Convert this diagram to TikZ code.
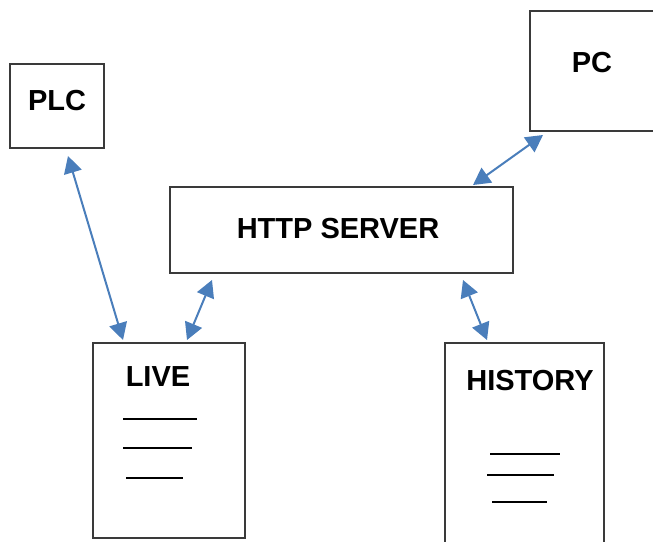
\documentclass[tikz,border=0pt]{standalone}
\usepackage{fontspec}
\setmainfont{Liberation Sans}
\usetikzlibrary{arrows.meta}
\definecolor{arrowblue}{HTML}{4A7EBB}
\definecolor{boxgray}{HTML}{3A3A3A}
\tikzset{
  box/.style={draw=boxgray, line width=1.3pt, fill=white},
  lbl/.style={font=\bfseries\fontsize{29}{32}\selectfont, inner sep=0pt, anchor=center},
  link/.style={draw=arrowblue, line width=2pt, {Triangle[length=17pt,width=18pt]}-{Triangle[length=17pt,width=18pt]}},
  rule/.style={draw=black, line width=1.3pt}
}
\begin{document}
\begin{tikzpicture}[x=1pt,y=-1pt]
\useasboundingbox (0,0) rectangle (653,541);
% boxes
\draw[box] (10,64) rectangle (104,148);
\draw[box] (530,11) rectangle (660,131);
\draw[box] (170,187) rectangle (513,273);
\draw[box] (93,343) rectangle (245,538);
\draw[box] (445,343) rectangle (604,560);
% labels
\node[lbl] (plc) at (57,101) {PLC};
\node[lbl] (pc) at (592,63) {PC};
\node[lbl] (http) at (338,229) {HTTP SERVER};
\node[lbl] (live) at (158,377) {LIVE};
\node[lbl] (hist) at (530,381) {HISTORY};
% arrow ends
\coordinate (plcA) at (68,156);
\coordinate (liveA) at (123,340);
\coordinate (httpL) at (212,280);
\coordinate (liveB) at (187,340);
\coordinate (httpR) at (463,280);
\coordinate (histA) at (487,340);
\coordinate (httpT) at (473,185);
\coordinate (pcA) at (543,135);
\draw[link] (plcA) -- (liveA);
\draw[link] (httpL) -- (liveB);
\draw[link] (httpR) -- (histA);
\draw[link] (httpT) -- (pcA);
% text rules in LIVE
\coordinate (l1a) at (123,419); \coordinate (l1b) at (197,419);
\coordinate (l2a) at (123,448); \coordinate (l2b) at (192,448);
\coordinate (l3a) at (126,478); \coordinate (l3b) at (183,478);
\draw[rule] (l1a) -- (l1b);
\draw[rule] (l2a) -- (l2b);
\draw[rule] (l3a) -- (l3b);
% text rules in HISTORY
\coordinate (h1a) at (490,454); \coordinate (h1b) at (560,454);
\coordinate (h2a) at (487,475); \coordinate (h2b) at (554,475);
\coordinate (h3a) at (492,502); \coordinate (h3b) at (547,502);
\draw[rule] (h1a) -- (h1b);
\draw[rule] (h2a) -- (h2b);
\draw[rule] (h3a) -- (h3b);
\end{tikzpicture}
\end{document}
